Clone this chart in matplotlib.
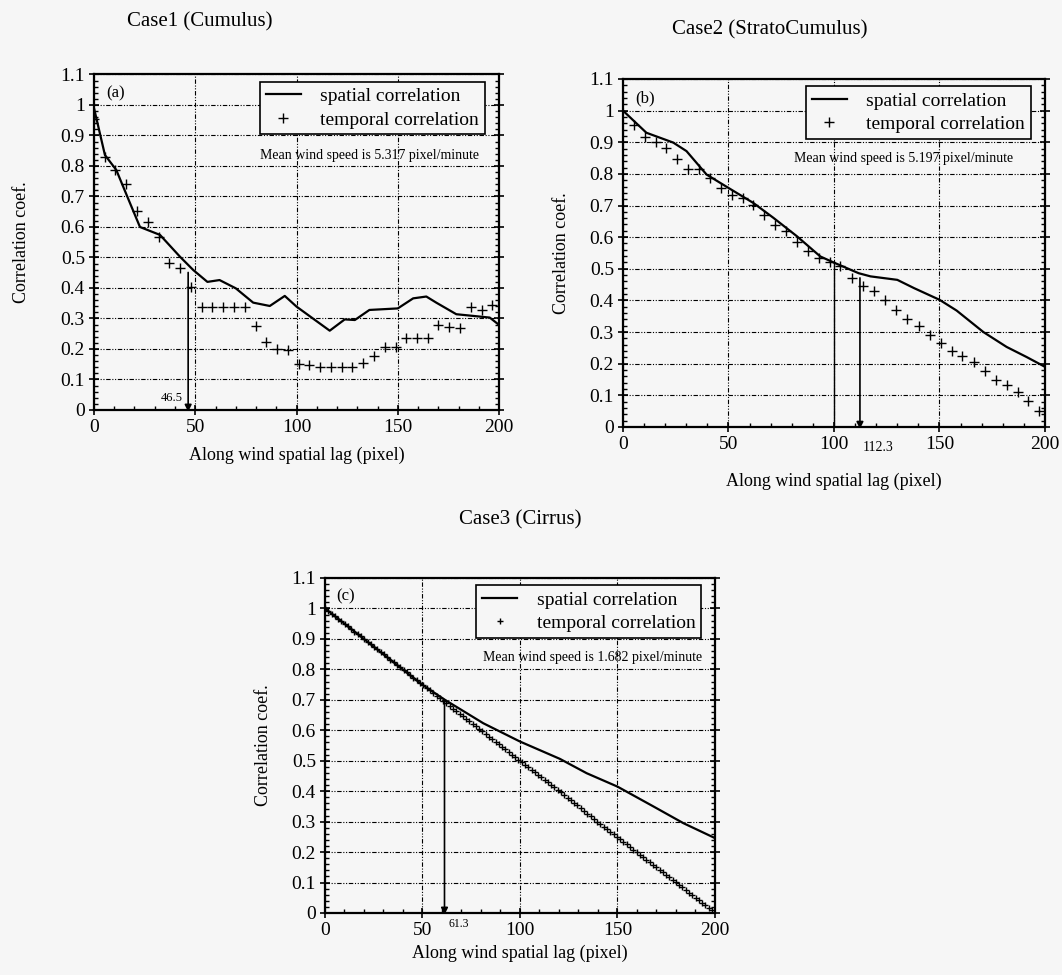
import matplotlib
matplotlib.use('Agg')
import matplotlib.pyplot as plt
from matplotlib.ticker import MultipleLocator

plt.rcParams['font.family'] = ['Liberation Serif', 'DejaVu Serif']

# ---- data ----
# Case1 (Cumulus)
a_spatial_x = [0, 5.4, 11, 17.8, 22.7, 32.6, 42.4, 49, 56, 62, 70, 78.6, 86.8, 94.2, 100,
               116.4, 123.8, 128.8, 136, 150, 157.6, 164.1, 169, 178.9, 195.4, 200]
a_spatial_y = [0.99, 0.836, 0.787, 0.678, 0.60, 0.574, 0.503, 0.459, 0.42, 0.426, 0.399, 0.352,
               0.341, 0.374, 0.339, 0.26, 0.297, 0.295, 0.328, 0.333, 0.366, 0.372, 0.352,
               0.314, 0.303, 0.279]
a_temporal_x = [0, 5.3, 10.6, 16.0, 21.3, 26.6, 31.9, 37.2, 42.5, 47.9, 53.2, 58.5, 63.8, 69.1,
                74.4, 79.8, 85.1, 90.4, 95.7, 101.0, 106.3, 111.7, 117.0, 122.3, 127.6, 132.9,
                138.2, 143.6, 148.9, 154.2, 159.5, 164.8, 170.1, 175.5, 180.8, 186.1, 191.4, 196.7]
a_temporal_y = [0.955, 0.83, 0.787, 0.74, 0.654, 0.617, 0.568, 0.481, 0.464, 0.402, 0.337, 0.337,
                0.337, 0.337, 0.337, 0.277, 0.222, 0.20, 0.197, 0.151, 0.148, 0.142, 0.14, 0.14,
                0.14, 0.153, 0.177, 0.208, 0.205, 0.235, 0.235, 0.235, 0.279, 0.273, 0.268,
                0.337, 0.328, 0.344]

# Case2 (StratoCumulus)
b_spatial_x = [0, 11.1, 23.8, 30.1, 39.6, 49.9, 61.8, 71.3, 82.4, 93.5, 99.8, 111.7, 117.3,
               130, 137.9, 150, 158.1, 170.8, 181.8, 191.3, 200]
b_spatial_y = [1.0, 0.93, 0.899, 0.872, 0.798, 0.756, 0.708, 0.661, 0.603, 0.539, 0.52, 0.486,
               0.476, 0.465, 0.439, 0.402, 0.368, 0.30, 0.253, 0.221, 0.19]
b_temporal_x = [5.2, 10.3, 15.5, 20.6, 25.8, 30.9, 36.1, 41.2, 46.4, 51.5, 56.7, 61.8, 67.0,
                72.1, 77.3, 82.4, 87.6, 92.7, 97.9, 103.0, 108.6, 113.8, 118.9, 124.1, 129.6,
                134.7, 140.3, 145.5, 150.6, 155.8, 160.9, 166.4, 171.6, 176.7, 182.2, 187.3,
                192.1, 197.3]
b_temporal_y = [0.955, 0.916, 0.90, 0.881, 0.846, 0.816, 0.814, 0.788, 0.756, 0.732, 0.724,
                0.703, 0.671, 0.637, 0.618, 0.584, 0.555, 0.534, 0.523, 0.51, 0.47, 0.446,
                0.43, 0.40, 0.37, 0.34, 0.319, 0.291, 0.264, 0.241, 0.224, 0.206, 0.178, 0.15,
                0.132, 0.111, 0.082, 0.05]

# Case3 (Cirrus)
c_spatial_x = [0, 50, 61.5, 81.2, 100, 120.5, 134.2, 150, 168.4, 183.8, 200]
c_spatial_y = [1.0, 0.749, 0.70, 0.623, 0.563, 0.506, 0.459, 0.415, 0.35, 0.295, 0.246]
c_temporal_x = [0.0, 1.7, 3.4, 5.0, 6.7, 8.4, 10.1, 11.8, 13.5, 15.1, 16.8, 18.5, 20.2, 21.9,
                23.5, 25.2, 26.9, 28.6, 30.3, 32.0, 33.6, 35.3, 37.0, 38.7, 40.4, 42.1, 43.7,
                45.4, 47.1, 48.8, 50.5, 52.1, 53.8, 55.5, 57.2, 58.9, 60.6, 62.2, 63.9, 65.6,
                67.3, 69.0, 70.6, 72.3, 74.0, 75.7, 77.4, 79.1, 80.7, 82.4, 84.1, 85.8, 87.5,
                89.1, 90.8, 92.5, 94.2, 95.9, 97.6, 99.2, 100.9, 102.6, 104.3, 106.0, 107.6,
                109.3, 111.0, 112.7, 114.4, 116.1, 117.7, 119.4, 121.1, 122.8, 124.5, 126.2,
                127.8, 129.5, 131.2, 132.9, 134.6, 136.2, 137.9, 139.6, 141.3, 143.0, 144.7,
                146.3, 148.0, 149.7, 151.4, 153.1, 154.7, 156.4, 158.1, 159.8, 161.5, 163.2,
                164.8, 166.5, 168.2, 169.9, 171.6, 173.2, 174.9, 176.6, 178.3, 180.0, 181.7,
                183.3, 185.0, 186.7, 188.4, 190.1, 191.7, 193.4, 195.1, 196.8, 198.5]
c_temporal_y = [1.000, 0.992, 0.983, 0.975, 0.966, 0.958, 0.950, 0.941, 0.933, 0.924, 0.916,
                0.908, 0.899, 0.891, 0.882, 0.874, 0.866, 0.857, 0.849, 0.840, 0.832, 0.824,
                0.815, 0.807, 0.798, 0.790, 0.782, 0.773, 0.765, 0.756, 0.748, 0.739, 0.731,
                0.722, 0.714, 0.705, 0.697, 0.688, 0.680, 0.671, 0.663, 0.655, 0.646, 0.638,
                0.629, 0.621, 0.613, 0.604, 0.596, 0.587, 0.579, 0.571, 0.562, 0.554, 0.545,
                0.537, 0.529, 0.520, 0.512, 0.503, 0.495, 0.487, 0.478, 0.470, 0.462, 0.454,
                0.446, 0.437, 0.429, 0.421, 0.413, 0.405, 0.396, 0.388, 0.379, 0.370, 0.362,
                0.353, 0.344, 0.335, 0.326, 0.318, 0.309, 0.300, 0.292, 0.283, 0.275, 0.267,
                0.258, 0.250, 0.242, 0.233, 0.225, 0.217, 0.208, 0.200, 0.192, 0.184, 0.175,
                0.167, 0.159, 0.151, 0.142, 0.134, 0.126, 0.117, 0.109, 0.101, 0.092, 0.084,
                0.076, 0.067, 0.059, 0.050, 0.042, 0.034, 0.025, 0.017, 0.009]

titles = ['Case1 (Cumulus)', 'Case2 (StratoCumulus)', 'Case3 (Cirrus)']
panel_tags = ['(a)', '(b)', '(c)']
wind_speeds = ['5.317', '5.197', '1.682']
lag_marks = [46.5, 112.3, 61.3]
lag_tops = [0.46, 0.48, 0.70]
lag_labels = ['46.5', '112.3', '61.3']

BG = '#f6f6f6'
GRID_LS = (0, (4, 1.5, 1, 1.5, 1, 1.5))


def style_axes(ax):
    ax.set_facecolor(BG)
    ax.set_xlim(0, 200)
    ax.set_ylim(0, 1.1)
    ax.xaxis.set_major_locator(MultipleLocator(50))
    ax.xaxis.set_minor_locator(MultipleLocator(10))
    ax.yaxis.set_minor_locator(MultipleLocator(0.02))
    ax.set_yticks([0, 0.1, 0.2, 0.3, 0.4, 0.5, 0.6, 0.7, 0.8, 0.9, 1.0, 1.1])
    ax.set_yticklabels(['0', '0.1', '0.2', '0.3', '0.4', '0.5', '0.6', '0.7', '0.8', '0.9', '1', '1.1'])
    ax.tick_params(which='major', direction='inout', length=7, width=1.2, labelsize=14,
                   right=True, top=False, pad=3)
    ax.tick_params(which='minor', direction='in', length=3, width=1, right=True)
    for s in ax.spines.values():
        s.set_linewidth(1.6)
    ax.grid(True, which='major', color='k', linestyle=GRID_LS, linewidth=0.8)
    ax.set_axisbelow(True)


fig = plt.figure(figsize=(10.62, 9.75), dpi=100, facecolor=BG)

ax_a = fig.add_axes([0.0885, 0.5795, 0.3814, 0.3441])
ax_b = fig.add_axes([0.5866, 0.5621, 0.3974, 0.3569])
ax_c = fig.add_axes([0.3060, 0.0636, 0.3672, 0.3436])
axes = [ax_a, ax_b, ax_c]

series = [
    (a_spatial_x, a_spatial_y, a_temporal_x, a_temporal_y, 7),
    (b_spatial_x, b_spatial_y, b_temporal_x, b_temporal_y, 7),
    (c_spatial_x, c_spatial_y, c_temporal_x, c_temporal_y, 4.5),
]
# where the "Mean wind speed" note sits (axes fraction, left edge)
note_pos = [(0.41, 0.76), (0.405, 0.772), (0.405, 0.762)]

for i, ax in enumerate(axes):
    style_axes(ax)
    sx, sy, tx, ty, ms = series[i]
    ax.plot(sx, sy, color='k', lw=1.6, label='spatial correlation')
    ax.plot(tx, ty, linestyle='none', marker='+', color='k', ms=ms, mew=1.0,
            label='temporal correlation')
    leg = ax.legend(loc='upper right', bbox_to_anchor=(0.975, 0.99), fontsize=14,
                    frameon=True, fancybox=False, edgecolor='k', framealpha=1,
                    facecolor=BG, borderpad=0.3, handlelength=1.8, handletextpad=1.0,
                    labelspacing=0.3, borderaxespad=0.2)
    leg.get_frame().set_linewidth(1.2)
    ax.text(note_pos[i][0], note_pos[i][1],
            'Mean wind speed is %s pixel/minute' % wind_speeds[i],
            transform=ax.transAxes, ha='left', va='center', fontsize=10)
    ax.text(0.03, 0.945, panel_tags[i], transform=ax.transAxes, ha='left', va='center',
            fontsize=12)
    # lag where temporal and spatial correlation part
    ax.annotate('', xy=(lag_marks[i], -0.015), xytext=(lag_marks[i], lag_tops[i]),
                arrowprops=dict(arrowstyle='-|>', color='k', lw=1.2, mutation_scale=10),
                annotation_clip=False)

ax_a.text(44, 0.04, lag_labels[0], ha='right', va='center', fontsize=9)
ax_b.text(113.5, -0.065, lag_labels[1], ha='left', va='center', fontsize=10)
ax_c.text(63.5, -0.035, lag_labels[2], ha='left', va='center', fontsize=8.5)
ax_b.vlines(100, 0, 0.52, color='k', lw=1.0)

xlabel_pad = [8, 14, 4]
ylabel_pad = [22, 14, 14]
for i, ax in enumerate(axes):
    ax.set_xlabel('Along wind spatial lag (pixel)', fontsize=13, labelpad=xlabel_pad[i])
    ax.set_ylabel('Correlation coef.', fontsize=13, labelpad=ylabel_pad[i])

fig.text(200 / 1062, 1 - 22 / 975, titles[0], ha='center', va='center', fontsize=15)
fig.text(770 / 1062, 1 - 30 / 975, titles[1], ha='center', va='center', fontsize=15)
fig.text(520 / 1062, 1 - 520 / 975, titles[2], ha='center', va='center', fontsize=15)

fig.savefig('out.png', dpi=100, facecolor=BG)
